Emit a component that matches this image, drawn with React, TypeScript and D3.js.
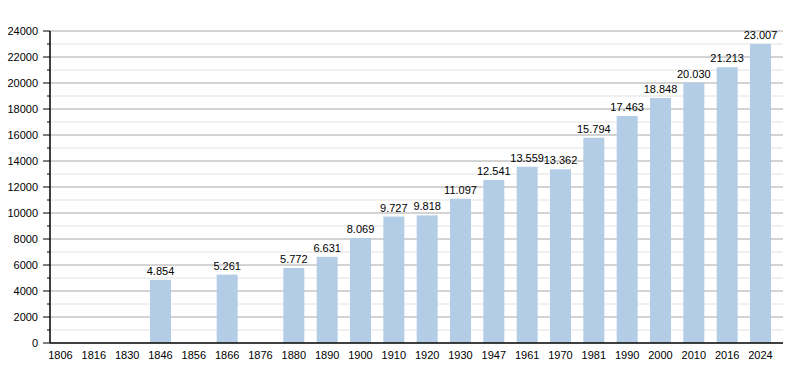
import React from 'react';
import * as d3 from 'd3';

const years = ['1806', '1816', '1830', '1846', '1856', '1866', '1876', '1880', '1890', '1900', '1910',
  '1920', '1930', '1947', '1961', '1970', '1981', '1990', '2000', '2010', '2016', '2024'];
const population: (number | null)[] = [null, null, null, 4854, null, 5261, null, 5772, 6631, 8069, 9727,
  9818, 11097, 12541, 13559, 13362, 15794, 17463, 18848, 20030, 21213, 23007];
const majorTicks = [0, 2000, 4000, 6000, 8000, 10000, 12000, 14000, 16000, 18000, 20000, 22000, 24000];
const minorTicks = [1000, 3000, 5000, 7000, 9000, 11000, 13000, 15000, 17000, 19000, 21000, 23000];

const W = 800, H = 373;
const left = 50, right = 783, top = 31, bottom = 343;
const font = '"Liberation Sans", Arial, sans-serif';

// thousands with a dot, e.g. 4.854
const fmt = (v: number) => d3.format(',')(v).replace(/,/g, '.');

export default function App() {
  const x = d3.scaleBand<string>().domain(years).range([left, 771]).paddingInner(0.37).paddingOuter(0);
  const y = d3.scaleLinear().domain([0, 24000]).range([bottom, top]);

  return (
    <svg width={W} height={H} style={{ position: 'absolute', left: 0, top: 0, background: '#fff' }}>
      {minorTicks.map(t => (
        <g key={'m' + t}>
          <line x1={left} x2={right} y1={y(t)} y2={y(t)} stroke="#e2e2e2" strokeWidth={1} />
          <line x1={left - 3} x2={left} y1={y(t)} y2={y(t)} stroke="#000" strokeWidth={1} />
        </g>
      ))}
      {majorTicks.map(t => (
        <g key={'M' + t}>
          {t > 0 && <line x1={left} x2={right} y1={y(t)} y2={y(t)} stroke="#a8a8a8" strokeWidth={1} />}
          <line x1={left - 7} x2={left} y1={y(t)} y2={y(t)} stroke="#000" strokeWidth={1} />
          <text x={38} y={y(t)} dy="0.35em" textAnchor="end" fontFamily={font} fontSize={11} fill="#000">{t}</text>
        </g>
      ))}
      {years.map((yr, i) => {
        const v = population[i];
        const bx = x(yr)!;
        const bw = x.bandwidth();
        return (
          <g key={yr}>
            {v != null && (
              <>
                <rect x={bx} y={y(v)} width={bw} height={bottom - y(v)} fill="#b3cde6" />
                <text x={bx + bw / 2} y={y(v) - 5} textAnchor="middle" fontFamily={font} fontSize={11} fill="#000">{fmt(v)}</text>
              </>
            )}
            <text x={bx + bw / 2} y={355} dy="0.35em" textAnchor="middle" fontFamily={font} fontSize={11} fill="#000">{yr}</text>
          </g>
        );
      })}
      <line x1={left} x2={left} y1={top} y2={bottom} stroke="#000" strokeWidth={1.5} />
      <line x1={left} x2={right} y1={bottom} y2={bottom} stroke="#000" strokeWidth={1.5} />
    </svg>
  );
}
